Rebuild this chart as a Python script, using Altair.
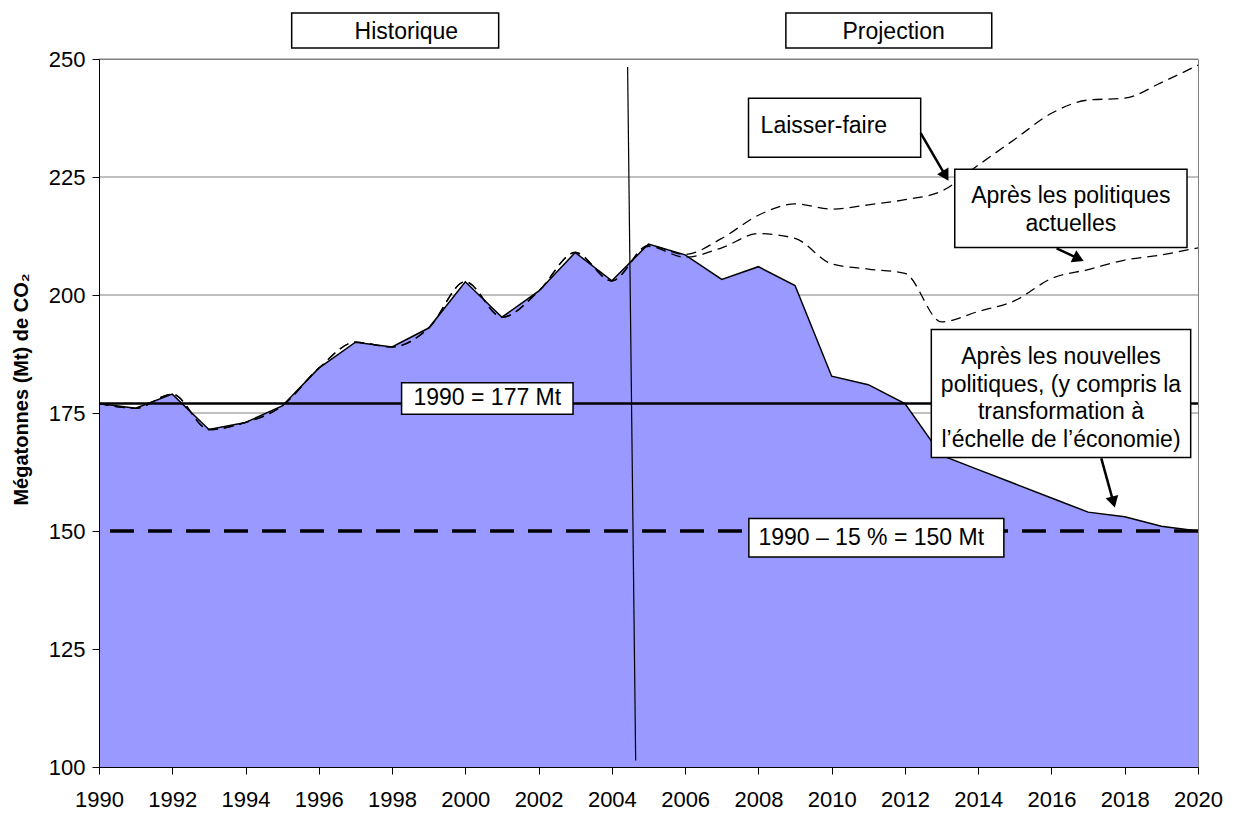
import altair as alt
import pandas as pd

# ---------------- data ----------------
years = list(range(1990, 2021))
nouvelles = [177, 176, 179, 171.5, 173, 176.5, 184.5, 190, 189, 193, 202.8, 195.3, 200.8, 209, 203,
             210.8, 208.5, 203.3, 206, 202, 182.8, 181, 177, 166, 163, 160, 157, 154, 153, 151, 150]
laisser_faire = [177, 176, 179, 171.5, 173, 176.5, 184.5, 190, 189, 193, 202.8, 195.3, 200.8, 209, 203,
                 210.5, 208.6, 212, 216.9, 219.3, 218.2, 219.1, 220.2, 222, 227.5, 233, 238.5, 241.3, 241.7, 245, 248.7]
actuelles = [177, 176, 179, 171.5, 173, 176.5, 184.5, 190, 189, 193, 202.8, 195.3, 200.8, 209, 203,
             210.3, 208, 210, 213, 212, 206.6, 205.5, 204.6, 194.3, 196.5, 198.8, 203.5, 205.4, 207.4, 208.5, 210]

ref_solid = [177]
ref_dashed = [150]
grid_values = [125, 150, 175, 200, 225, 250]
y_ticks = [100, 125, 150, 175, 200, 225, 250]

divider_x = [2004.43, 2004.65]
divider_y = [248.3, 101.4]

box_names = ["hist", "proj", "lf", "act", "nouv", "r177", "r150"]
box_x1 = [1995.26, 2008.75, 2007.73, 2013.36, 2012.72, 1998.26, 2007.74]
box_x2 = [2000.91, 2014.37, 2012.43, 2019.70, 2019.80, 2002.94, 2014.70]
box_y1 = [259.75, 259.75, 241.67, 226.62, 192.71, 181.39, 152.65]
box_y2 = [252.33, 252.33, 229.16, 210.09, 165.58, 174.76, 144.51]

label_text = ["Historique", "Projection",
              "Après les politiques\nactuelles",
              "Après les nouvelles\npolitiques, (y compris la\ntransformation à\nl’échelle de l’économie)",
              "1990 = 177 Mt", "1990 – 15 % = 150 Mt"]
label_x = [1998.39, 2011.69, 2016.53, 2016.26, 2000.60, 2011.08]
label_y = [255.7, 255.7, 220.96, 186.9, 178.15, 148.58]

lf_text = ["Laisser-faire"]
lf_x = [2008.06]
lf_y = [235.8]

arrow_x1 = [2012.43, 2016.14, 2017.36]
arrow_y1 = [234.3, 209.88, 165.37]
arrow_x2 = [2013.11, 2016.74, 2017.69]
arrow_y2 = [225.26, 207.7, 156.12]
arrow_angle = [150, 115, 165]

FONT = "Liberation Sans"

# ---------------- tables ----------------
df = pd.DataFrame({"year": years, "nouvelles": nouvelles,
                   "laisser": laisser_faire, "actuelles": actuelles})
df_grid = pd.DataFrame({"v": grid_values})
df_div = pd.DataFrame({"x": divider_x, "y": divider_y})
df_box = pd.DataFrame({"n": box_names, "x": box_x1, "x2": box_x2, "y": box_y1, "y2": box_y2})
df_lab = pd.DataFrame({"t": label_text, "x": label_x, "y": label_y})
df_lf = pd.DataFrame({"t": lf_text, "x": lf_x, "y": lf_y})
df_arr = pd.DataFrame({"x": arrow_x1, "y": arrow_y1, "x2": arrow_x2, "y2": arrow_y2, "a": arrow_angle})

xs = alt.Scale(domain=[1990, 2020], nice=False, zero=False)
ys = alt.Scale(domain=[100, 250], nice=False, zero=False)

x_axis = alt.Axis(values=years, format="d",
                  labelExpr="datum.value % 2 === 0 ? datum.label : ''",
                  labelOverlap=False, labelBound=False, labelFlush=False,
                  tickSize=7, labelPadding=15, grid=False, title=None,
                  domainColor="black", tickColor="black", labelColor="black",
                  labelFont=FONT, labelFontSize=22, zindex=1)
y_axis = alt.Axis(values=y_ticks, tickSize=7, labelPadding=7, grid=False,
                  labelOverlap=False, labelFlush=False,
                  domainColor="black", tickColor="black", labelColor="black",
                  labelFont=FONT, labelFontSize=22, zindex=1,
                  title="Mégatonnes (Mt) de CO₂", titleFont=FONT, titleFontSize=20,
                  titleFontWeight="bold", titleColor="black", titleAngle=270,
                  titleX=-78, titleY=330, titleAlign="center", titleBaseline="middle")

X = alt.X("year:Q", scale=xs, axis=x_axis)

grid = alt.Chart(df_grid).mark_rule(color="#808080", strokeWidth=1).encode(
    y=alt.Y("v:Q", scale=ys, axis=y_axis))

area = alt.Chart(df).mark_area(color="#9999FF", opacity=1, clip=True).encode(
    x=X, y=alt.Y("nouvelles:Q", scale=ys), y2=alt.datum(100))

edge = alt.Chart(df).mark_line(color="black", strokeWidth=1.5).encode(
    x=X, y=alt.Y("nouvelles:Q", scale=ys))

lf_line = alt.Chart(df).mark_line(color="black", strokeWidth=1.3, strokeDash=[10, 6],
                                  interpolate="monotone").encode(
    x=X, y=alt.Y("laisser:Q", scale=ys))
act_line = alt.Chart(df).mark_line(color="black", strokeWidth=1.3, strokeDash=[10, 6],
                                   interpolate="monotone").encode(
    x=X, y=alt.Y("actuelles:Q", scale=ys))

r177 = alt.Chart(pd.DataFrame({"v": ref_solid})).mark_rule(color="black", strokeWidth=2.5).encode(
    y=alt.Y("v:Q", scale=ys))
r150 = alt.Chart(pd.DataFrame({"v": ref_dashed})).mark_rule(color="black", strokeWidth=3.5,
                                                            strokeDash=[24, 14]).encode(
    y=alt.Y("v:Q", scale=ys))

divider = alt.Chart(df_div).mark_line(color="black", strokeWidth=1.2).encode(
    x=alt.X("x:Q", scale=xs), y=alt.Y("y:Q", scale=ys))

boxes = alt.Chart(df_box).mark_rect(fill="white", stroke="black", strokeWidth=1.5).encode(
    x=alt.X("x:Q", scale=xs), x2="x2:Q", y=alt.Y("y:Q", scale=ys), y2="y2:Q")

labels = alt.Chart(df_lab).mark_text(font=FONT, fontSize=23, color="black", align="center",
                                     baseline="middle", lineBreak="\n", lineHeight=27.7).encode(
    x=alt.X("x:Q", scale=xs), y=alt.Y("y:Q", scale=ys), text="t:N")

lf_label = alt.Chart(df_lf).mark_text(font=FONT, fontSize=23, color="black", align="left",
                                      baseline="middle").encode(
    x=alt.X("x:Q", scale=xs), y=alt.Y("y:Q", scale=ys), text="t:N")

arrows = alt.Chart(df_arr).mark_rule(color="black", strokeWidth=2.5).encode(
    x=alt.X("x:Q", scale=xs), x2="x2:Q", y=alt.Y("y:Q", scale=ys), y2="y2:Q")
heads = alt.Chart(df_arr).mark_point(shape="triangle-up", filled=True, color="black",
                                     size=170, opacity=1).encode(
    x=alt.X("x2:Q", scale=xs), y=alt.Y("y2:Q", scale=ys), angle=alt.Angle("a:Q", scale=None))

chart = alt.layer(grid, area, edge, lf_line, act_line, r177, r150, divider,
                  boxes, labels, lf_label, arrows, heads).properties(
    width=1099, height=708,
    autosize=alt.AutoSizeParams(type="none"),
    padding={"left": 91, "top": 51, "right": 30, "bottom": 44},
    background="white",
).configure_view(stroke="#808080", strokeWidth=1)

chart.save("out.html", embed_options={"renderer": "svg", "actions": False})
